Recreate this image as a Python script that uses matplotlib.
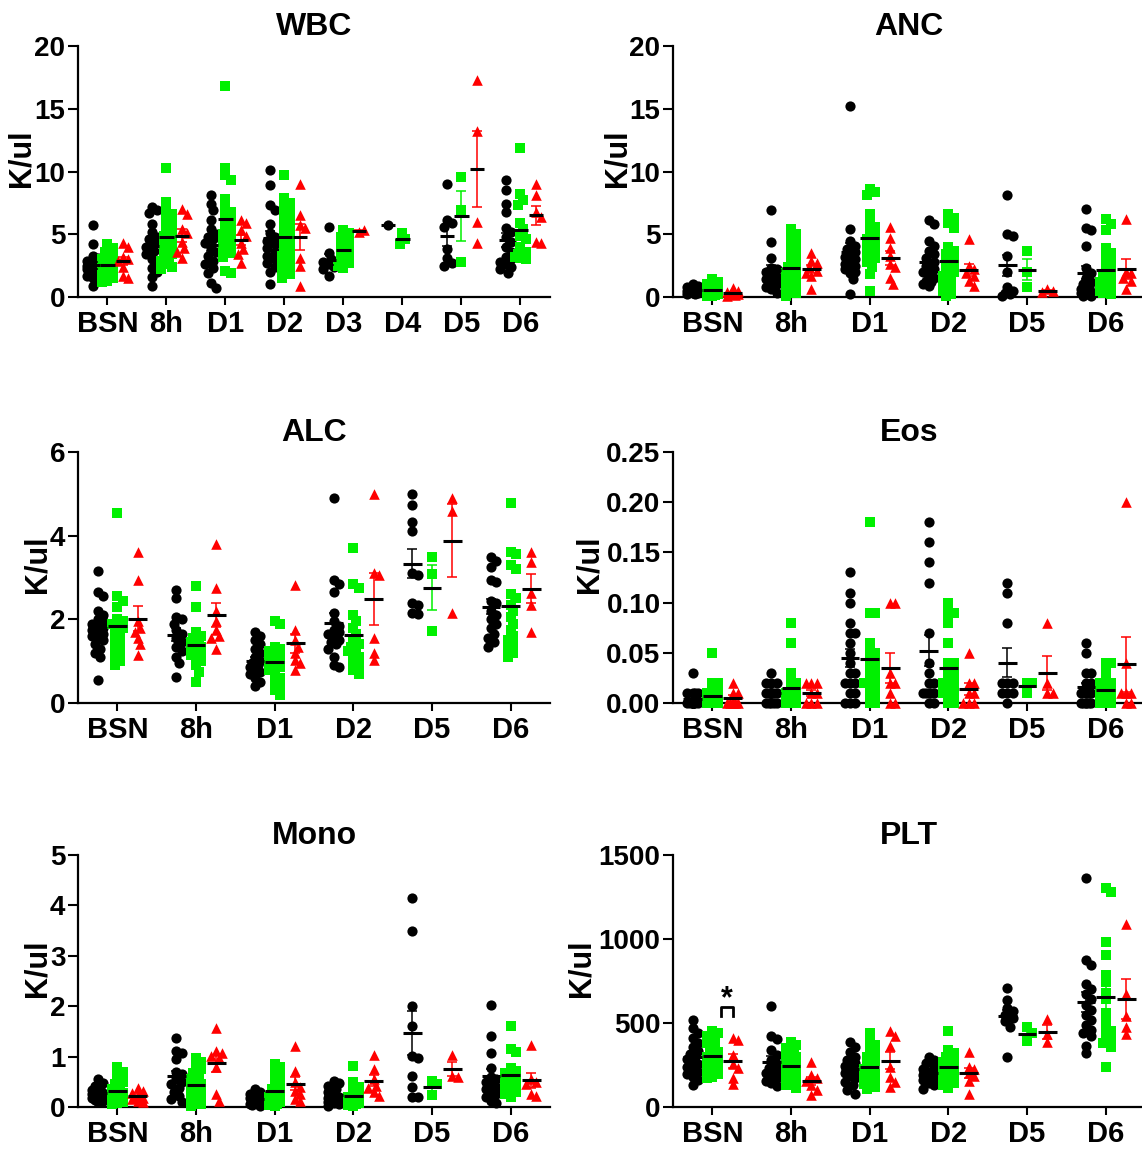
import numpy as np
import matplotlib
matplotlib.use('Agg')
import matplotlib.pyplot as plt

plt.rcParams['font.family'] = ['Liberation Sans', 'DejaVu Sans']
plt.rcParams['font.weight'] = 'bold'

# colours of the three groups
col_1 = '#000000'
col_2 = '#00f000'
col_3 = '#ff0000'

# ---------------- data ----------------
wbc_cats = ['BSN', '8h', 'D1', 'D2', 'D3', 'D4', 'D5', 'D6']
wbc_g1 = [[5.7, 4.2, 3.3, 3.1, 2.9, 2.8, 2.6, 2.5, 2.4, 2.3, 2.2, 2.0, 1.9, 1.7, 1.5, 1.3, 0.9],
          [7.2, 6.9, 6.7, 5.8, 5.2, 4.8, 4.6, 4.3, 4.0, 3.7, 3.4, 3.0, 2.7, 2.3, 2.0, 1.6, 0.9],
          [8.1, 7.4, 6.9, 6.1, 5.4, 5.0, 4.8, 4.6, 4.3, 3.9, 3.6, 3.3, 2.9, 2.6, 2.3, 1.9, 1.1, 0.7],
          [10.1, 8.9, 7.3, 6.9, 5.8, 5.1, 4.8, 4.5, 4.2, 3.9, 3.6, 3.3, 3.0, 2.7, 2.4, 2.0, 1.0],
          [5.6, 3.5, 3.0, 2.8, 2.6, 2.4, 2.2, 1.7],
          [5.7],
          [9.0, 6.1, 5.9, 5.6, 3.8, 3.1, 2.7, 2.5],
          [9.3, 8.5, 7.4, 6.8, 5.5, 5.2, 4.8, 4.4, 4.0, 3.6, 3.2, 3.0, 2.8, 2.6, 2.4, 2.2, 1.9]]
wbc_g2 = [[4.2, 3.9, 3.6, 3.4, 3.2, 3.0, 2.9, 2.8, 2.7, 2.6, 2.5, 2.4, 2.3, 2.2, 2.1, 2.0, 1.9, 1.7, 1.5, 1.3, 1.2],
          [10.3, 7.6, 7.0, 6.6, 6.2, 5.9, 5.5, 5.2, 4.9, 4.6, 4.3, 4.0, 3.7, 3.4, 3.1, 3.0, 2.9, 2.6, 2.4, 2.2],
          [16.8, 10.3, 9.7, 9.3, 7.8, 7.0, 6.8, 6.3, 6.0, 5.6, 5.3, 5.0, 4.7, 4.4, 4.1, 3.8, 3.5, 3.2, 2.1, 1.9],
          [9.7, 7.9, 7.5, 7.1, 6.7, 6.3, 5.9, 5.5, 5.1, 4.7, 4.3, 3.9, 3.6, 3.3, 3.0, 2.7, 2.4, 2.1, 1.8, 1.5],
          [5.3, 5.1, 4.8, 4.5, 4.2, 3.9, 3.6, 3.3, 3.0, 2.7, 2.5, 2.3],
          [5.1, 4.6, 4.2],
          [9.6, 6.9, 2.8],
          [11.9, 8.2, 7.7, 7.3, 5.9, 5.4, 4.9, 4.6, 4.0, 3.6, 3.4, 3.3, 3.2, 3.1, 3.0]]
wbc_g3 = [[4.3, 4.0, 3.2, 3.0, 2.9, 2.4, 1.7, 1.5],
          [7.0, 6.6, 5.4, 5.1, 4.4, 3.9, 3.6, 3.1],
          [6.1, 5.9, 5.3, 4.9, 4.3, 3.8, 3.4, 2.7],
          [9.0, 6.5, 5.7, 5.5, 3.1, 2.5, 0.9],
          [5.2, 5.3],
          [],
          [17.3, 13.2, 6.0, 4.3],
          [9.0, 8.1, 6.8, 6.4, 4.4, 4.3]]

cats6 = ['BSN', '8h', 'D1', 'D2', 'D5', 'D6']

anc_g1 = [[1.0, 0.9, 0.8, 0.7, 0.6, 0.5, 0.45, 0.4, 0.35, 0.3, 0.25, 0.2],
          [6.9, 4.4, 3.1, 2.3, 2.2, 2.0, 1.8, 1.6, 1.4, 1.2, 1.0, 0.8, 0.6, 0.3],
          [15.2, 5.4, 4.5, 4.1, 3.8, 3.6, 3.4, 3.2, 3.0, 2.8, 2.6, 2.5, 2.4, 2.2, 2.0, 1.9, 1.4, 0.2],
          [6.1, 5.8, 4.5, 4.1, 3.7, 3.4, 3.1, 2.8, 2.5, 2.2, 2.0, 1.8, 1.5, 1.3, 1.2, 1.0, 0.9],
          [8.1, 5.0, 4.9, 3.3, 2.0, 0.8, 0.5, 0.3, 0.2, 0.1],
          [7.0, 5.5, 5.3, 4.1, 2.3, 1.9, 1.5, 1.2, 1.0, 0.8, 0.6, 0.5, 0.4, 0.3, 0.2, 0.1, 0.1]]
anc_g2 = [[1.4, 1.2, 1.0, 0.9, 0.8, 0.7, 0.6, 0.5, 0.45, 0.4, 0.35, 0.3, 0.25, 0.2, 0.15, 0.1, 0.05],
          [5.4, 5.0, 4.6, 4.2, 3.8, 3.4, 3.0, 2.7, 2.4, 2.1, 1.9, 1.7, 1.5, 1.3, 1.1, 0.9, 0.7, 0.5, 0.3, 0.1],
          [8.6, 8.4, 8.1, 6.6, 6.0, 5.6, 5.2, 4.9, 4.6, 4.3, 4.0, 3.7, 3.4, 3.1, 2.8, 2.4, 1.8, 0.5],
          [6.6, 6.3, 5.9, 5.5, 4.0, 3.7, 3.4, 3.1, 2.8, 2.5, 2.2, 2.0, 1.7, 1.4, 1.1, 0.8, 0.5, 0.2, 0.1],
          [3.7, 2.0, 0.8],
          [6.2, 5.8, 5.3, 3.9, 3.5, 3.1, 2.7, 2.3, 2.0, 1.7, 1.4, 1.2, 1.1, 1.0, 0.8, 0.6, 0.6, 0.5, 0.4, 0.3, 0.2]]
anc_g3 = [[0.7, 0.5, 0.4, 0.3, 0.25, 0.2, 0.15, 0.1],
          [3.5, 2.9, 2.7, 2.4, 2.1, 1.9, 1.7, 0.6],
          [5.6, 4.7, 3.9, 3.3, 2.6, 2.4, 1.5, 1.0],
          [4.6, 2.5, 2.2, 1.9, 1.7, 1.3, 0.9],
          [0.6, 0.5, 0.4],
          [6.2, 2.0, 1.9, 1.5, 1.3, 0.6]]

alc_g1 = [[3.15, 2.65, 2.55, 2.2, 2.1, 2.0, 1.95, 1.9, 1.85, 1.8, 1.75, 1.7, 1.65, 1.6, 1.55, 1.5, 1.4, 1.3, 1.2, 1.1, 0.55],
          [2.7, 2.5, 2.05, 2.0, 1.9, 1.75, 1.65, 1.55, 1.45, 1.35, 1.25, 1.1, 0.95, 0.62],
          [1.7, 1.6, 1.5, 1.4, 1.3, 1.2, 1.1, 1.0, 0.95, 0.9, 0.85, 0.8, 0.75, 0.7, 0.6, 0.5, 0.4],
          [4.9, 2.95, 2.85, 2.65, 2.15, 1.95, 1.85, 1.75, 1.7, 1.65, 1.6, 1.5, 1.45, 1.4, 1.3, 1.1, 0.9, 0.85],
          [5.0, 4.73, 4.33, 4.1, 3.1, 3.05, 2.38, 2.35, 2.15, 2.12],
          [3.48, 3.4, 3.25, 2.95, 2.9, 2.45, 2.38, 2.2, 2.1, 2.0, 1.9, 1.8, 1.65, 1.55, 1.45, 1.35]]
alc_g2 = [[4.55, 2.55, 2.45, 2.3, 2.0, 1.95, 1.9, 1.85, 1.8, 1.7, 1.6, 1.5, 1.4, 1.3, 1.2, 1.1, 1.0, 0.9],
          [2.8, 2.3, 1.7, 1.6, 1.55, 1.5, 1.45, 1.4, 1.35, 1.3, 1.25, 1.2, 1.15, 1.1, 1.0, 0.9, 0.75, 0.5],
          [1.95, 1.9, 1.35, 1.3, 1.25, 1.2, 1.15, 1.1, 1.05, 1.0, 0.95, 0.9, 0.85, 0.8, 0.7, 0.6, 0.5, 0.4, 0.3, 0.2],
          [3.7, 2.85, 2.75, 2.1, 1.95, 1.8, 1.65, 1.5, 1.4, 1.35, 1.3, 1.25, 1.2, 1.1, 1.0, 0.9, 0.8, 0.7],
          [3.48, 3.08, 1.72],
          [4.78, 3.6, 3.55, 3.3, 3.2, 2.6, 2.5, 2.35, 2.2, 2.05, 1.9, 1.75, 1.6, 1.5, 1.4, 1.3, 1.2, 1.1]]
alc_g3 = [[3.6, 2.95, 1.95, 1.8, 1.7, 1.55, 1.4, 1.15],
          [3.8, 2.75, 2.2, 1.95, 1.75, 1.6, 1.55, 1.3],
          [2.82, 1.75, 1.5, 1.35, 1.2, 1.03, 0.95, 0.8],
          [5.0, 3.1, 3.05, 1.55, 1.2, 1.02],
          [4.89, 4.6, 2.15],
          [3.62, 3.38, 2.62, 2.35, 1.69]]

eos_g1 = [[0.03, 0.01, 0.01, 0.01, 0.01, 0, 0, 0, 0, 0, 0, 0, 0, 0, 0, 0, 0],
          [0.03, 0.02, 0.02, 0.02, 0.01, 0.01, 0.01, 0.01, 0.01, 0.01, 0.01, 0.01, 0, 0, 0, 0, 0],
          [0.13, 0.11, 0.10, 0.08, 0.07, 0.07, 0.06, 0.05, 0.04, 0.03, 0.03, 0.02, 0.02, 0.02, 0.01, 0.01, 0, 0, 0],
          [0.18, 0.16, 0.14, 0.12, 0.07, 0.04, 0.03, 0.02, 0.02, 0.01, 0.01, 0.01, 0.01, 0.01, 0, 0],
          [0.12, 0.11, 0.08, 0.02, 0.02, 0.02, 0.01, 0.01, 0.01, 0],
          [0.06, 0.05, 0.03, 0.03, 0.02, 0.02, 0.01, 0.01, 0.01, 0.01, 0, 0, 0, 0, 0, 0]]
eos_g2 = [[0.05, 0.02, 0.02, 0.01, 0.01, 0.01, 0.01, 0, 0, 0, 0, 0, 0, 0, 0, 0, 0, 0, 0],
          [0.08, 0.06, 0.03, 0.02, 0.02, 0.01, 0.01, 0.01, 0.01, 0.01, 0.01, 0, 0, 0, 0, 0, 0, 0],
          [0.18, 0.09, 0.09, 0.06, 0.05, 0.05, 0.04, 0.04, 0.03, 0.03, 0.02, 0.02, 0.02, 0.01, 0.01, 0, 0],
          [0.10, 0.09, 0.09, 0.08, 0.06, 0.04, 0.04, 0.03, 0.03, 0.02, 0.02, 0.02, 0.01, 0.01, 0.01, 0.01, 0.01, 0, 0],
          [0.02, 0.02, 0.01],
          [0.04, 0.04, 0.03, 0.02, 0.02, 0.02, 0.01, 0.01, 0.01, 0.01, 0, 0, 0, 0, 0, 0]]
eos_g3 = [[0.02, 0.01, 0.01, 0, 0, 0, 0, 0],
          [0.02, 0.02, 0.02, 0.01, 0.01, 0, 0, 0],
          [0.10, 0.10, 0.03, 0.02, 0.02, 0.01, 0, 0],
          [0.05, 0.02, 0.02, 0.01, 0.01, 0, 0, 0],
          [0.08, 0.02, 0.01, 0.01],
          [0.20, 0.04, 0.01, 0.01, 0.01, 0, 0]]

mono_g1 = [[0.55, 0.48, 0.42, 0.38, 0.34, 0.3, 0.27, 0.25, 0.22, 0.2, 0.18, 0.16, 0.14, 0.12, 0.1],
           [1.37, 1.12, 1.08, 0.95, 0.7, 0.65, 0.55, 0.5, 0.45, 0.38, 0.3, 0.22, 0.15, 0.1],
           [0.36, 0.3, 0.26, 0.22, 0.2, 0.18, 0.15, 0.13, 0.1, 0.08, 0.06, 0.05, 0.03, 0.02],
           [0.52, 0.48, 0.42, 0.35, 0.3, 0.25, 0.2, 0.18, 0.15, 0.12, 0.1, 0.08, 0.05, 0.02],
           [4.14, 3.49, 2.0, 1.6, 1.02, 0.98, 0.62, 0.4, 0.2, 0.19],
           [2.03, 1.41, 1.08, 0.78, 0.6, 0.55, 0.5, 0.45, 0.4, 0.35, 0.3, 0.25, 0.2, 0.12, 0.08]]
mono_g2 = [[0.8, 0.7, 0.6, 0.5, 0.45, 0.4, 0.35, 0.3, 0.28, 0.25, 0.22, 0.2, 0.18, 0.15, 0.12, 0.1, 0.08, 0.05],
           [0.98, 0.9, 0.82, 0.75, 0.68, 0.6, 0.55, 0.5, 0.45, 0.4, 0.35, 0.3, 0.26, 0.22, 0.18, 0.14, 0.1, 0.06, 0.02],
           [0.85, 0.8, 0.7, 0.6, 0.5, 0.42, 0.35, 0.3, 0.25, 0.2, 0.17, 0.14, 0.12, 0.1, 0.08, 0.06, 0.04, 0.02],
           [0.82, 0.5, 0.4, 0.32, 0.25, 0.2, 0.18, 0.15, 0.12, 0.1, 0.08, 0.06, 0.05, 0.04, 0.02],
           [0.52, 0.45, 0.23],
           [1.61, 1.15, 1.1, 0.78, 0.72, 0.68, 0.62, 0.58, 0.55, 0.5, 0.45, 0.4, 0.35, 0.3, 0.25, 0.2]]
mono_g3 = [[0.38, 0.32, 0.28, 0.22, 0.18, 0.15, 0.12, 0.1],
           [1.56, 1.12, 1.08, 1.02, 0.98, 0.8, 0.25, 0.12],
           [1.22, 0.72, 0.5, 0.4, 0.32, 0.25, 0.15, 0.12],
           [1.04, 0.75, 0.55, 0.42, 0.38, 0.3, 0.22],
           [1.04, 0.62, 0.6],
           [1.23, 0.55, 0.5, 0.45, 0.25, 0.22]]

plt_g1 = [[520, 470, 440, 410, 380, 355, 335, 315, 300, 285, 270, 255, 240, 225, 210, 195, 180, 160, 130],
          [600, 425, 405, 340, 310, 280, 255, 235, 215, 200, 185, 170, 155, 140, 125],
          [385, 360, 330, 300, 280, 260, 245, 230, 215, 200, 185, 170, 150, 130, 100, 80],
          [300, 280, 260, 240, 225, 210, 200, 190, 180, 170, 160, 145, 130, 110],
          [710, 635, 590, 570, 550, 530, 510, 475, 300],
          [1365, 875, 845, 735, 700, 675, 640, 610, 580, 550, 520, 490, 460, 440, 420, 365, 320]]
plt_g2 = [[455, 440, 420, 400, 380, 360, 345, 330, 315, 300, 285, 270, 255, 240, 225, 210, 195, 180, 170],
          [385, 370, 350, 330, 310, 295, 280, 265, 250, 235, 220, 205, 190, 175, 160, 145, 130, 115],
          [440, 400, 370, 340, 315, 295, 275, 255, 240, 225, 210, 195, 180, 165, 150, 135, 130, 120, 110],
          [455, 340, 320, 300, 280, 265, 250, 235, 220, 205, 190, 175, 160, 145, 130, 115],
          [475, 440, 395],
          [1305, 1280, 980, 905, 785, 745, 680, 640, 560, 520, 480, 450, 420, 400, 380, 360, 240]]
plt_g3 = [[410, 400, 310, 255, 230, 175, 135],
          [268, 190, 170, 155, 130, 100, 70],
          [455, 425, 365, 240, 180, 150, 120],
          [330, 240, 225, 200, 185, 155, 80],
          [525, 435, 385],
          [1090, 675, 540, 475, 435]]

# ---------------- layout ----------------
W, H = 1142, 1152
fig = plt.figure(figsize=(W / 100, H / 100), dpi=100)

# name, categories, groups, ymax, yticks, tick format, box in pixels (l, t, r, b), ylabel x centre in px
panels = [
    ('WBC', wbc_cats, (wbc_g1, wbc_g2, wbc_g3), 20, [0, 5, 10, 15, 20], '{:g}', (78, 46, 550, 297), 22),
    ('ANC', cats6, (anc_g1, anc_g2, anc_g3), 20, [0, 5, 10, 15, 20], '{:g}', (673, 46, 1145, 297), 617),
    ('ALC', cats6, (alc_g1, alc_g2, alc_g3), 6, [0, 2, 4, 6], '{:g}', (78, 452, 550, 703), 38),
    ('Eos', cats6, (eos_g1, eos_g2, eos_g3), 0.25, [0, 0.05, 0.10, 0.15, 0.20, 0.25], '{:.2f}', (673, 452, 1145, 703), 590),
    ('Mono', cats6, (mono_g1, mono_g2, mono_g3), 5, [0, 1, 2, 3, 4, 5], '{:g}', (78, 855, 550, 1107), 38),
    ('PLT', cats6, (plt_g1, plt_g2, plt_g3), 1500, [0, 500, 1000, 1500], '{:g}', (673, 855, 1145, 1107), 581),
]

styles = [(col_1, 'o', 54), (col_2, 's', 52), (col_3, '^', 58)]
group_shift = [-0.25, 0.0, 0.26]


def swarm(vals, ppx, ppy, d=9.5):
    # little beeswarm: push points sideways when they would sit on top of each other
    offs = np.zeros(len(vals))
    placed = []
    step = 0.28 * d
    for i, v in enumerate(vals):
        y = v * ppy
        best, best_d = 0.0, -1.0
        for k in (0, 1, -1, 2, -2):
            x = k * step
            md = min([np.hypot(x - px, y - py) for px, py in placed], default=1e9)
            if md >= 0.7 * d:
                best = x
                break
            if md > best_d:
                best, best_d = x, md
        placed.append((best, y))
        offs[i] = best / ppx
    return offs


for name, cats, groups, ymax, yticks, fmt, box, ylx in panels:
    l, t, r, b = box
    ax = fig.add_axes([l / W, 1 - b / H, (r - l) / W, (b - t) / H])
    n = len(cats)
    ppx = (r - l) / n
    ppy = (b - t) / ymax

    for gi, data in enumerate(groups):
        color, marker, size = styles[gi]
        for ci, vals in enumerate(data):
            if len(vals) == 0:
                continue
            xc = ci + group_shift[gi]
            offs = swarm(vals, ppx, ppy)
            ax.scatter(xc + offs, vals, s=size, marker=marker, color=color,
                       linewidths=0, zorder=2 + gi, clip_on=False)
            m = np.mean(vals)
            if len(vals) > 1:
                sem = np.std(vals, ddof=1) / np.sqrt(len(vals))
                ax.errorbar(xc, m, yerr=sem, fmt='none', ecolor=color,
                            elinewidth=1.1, capsize=3.5, capthick=1.1, zorder=6)
            ax.plot([xc - 0.12, xc + 0.12], [m, m], color='black', lw=2.2,
                    solid_capstyle='butt', zorder=7)

    ax.set_xlim(-0.5, n - 0.5)
    ax.set_ylim(0, ymax)
    ax.spines['top'].set_visible(False)
    ax.spines['right'].set_visible(False)
    ax.spines['left'].set_linewidth(1.6)
    ax.spines['bottom'].set_linewidth(1.6)
    ax.set_xticks(range(n))
    ax.set_xticklabels(cats, fontsize=21, fontweight='bold')
    ax.set_yticks(yticks)
    ax.set_yticklabels([fmt.format(v) for v in yticks], fontsize=20, fontweight='bold')
    ax.tick_params(axis='x', length=6, width=1.5, pad=3.5)
    ax.tick_params(axis='y', length=7, width=1.5, pad=2)
    ax.set_title(name, fontsize=23, fontweight='bold', pad=8)
    ax.text((ylx - l) / (r - l), 0.5 + 13 / (b - t), 'K/ul', transform=ax.transAxes,
            rotation=90, ha='center', va='center', fontsize=22, fontweight='bold')

    if name == 'PLT':
        # significance bracket between BSN groups
        ax.plot([0.108, 0.108, 0.26, 0.26], [540, 596, 596, 540], color='black', lw=2, zorder=8)
        ax.text(0.185, 640, '*', ha='center', va='center', fontsize=22, fontweight='bold')

fig.savefig('out.png', dpi=100)
